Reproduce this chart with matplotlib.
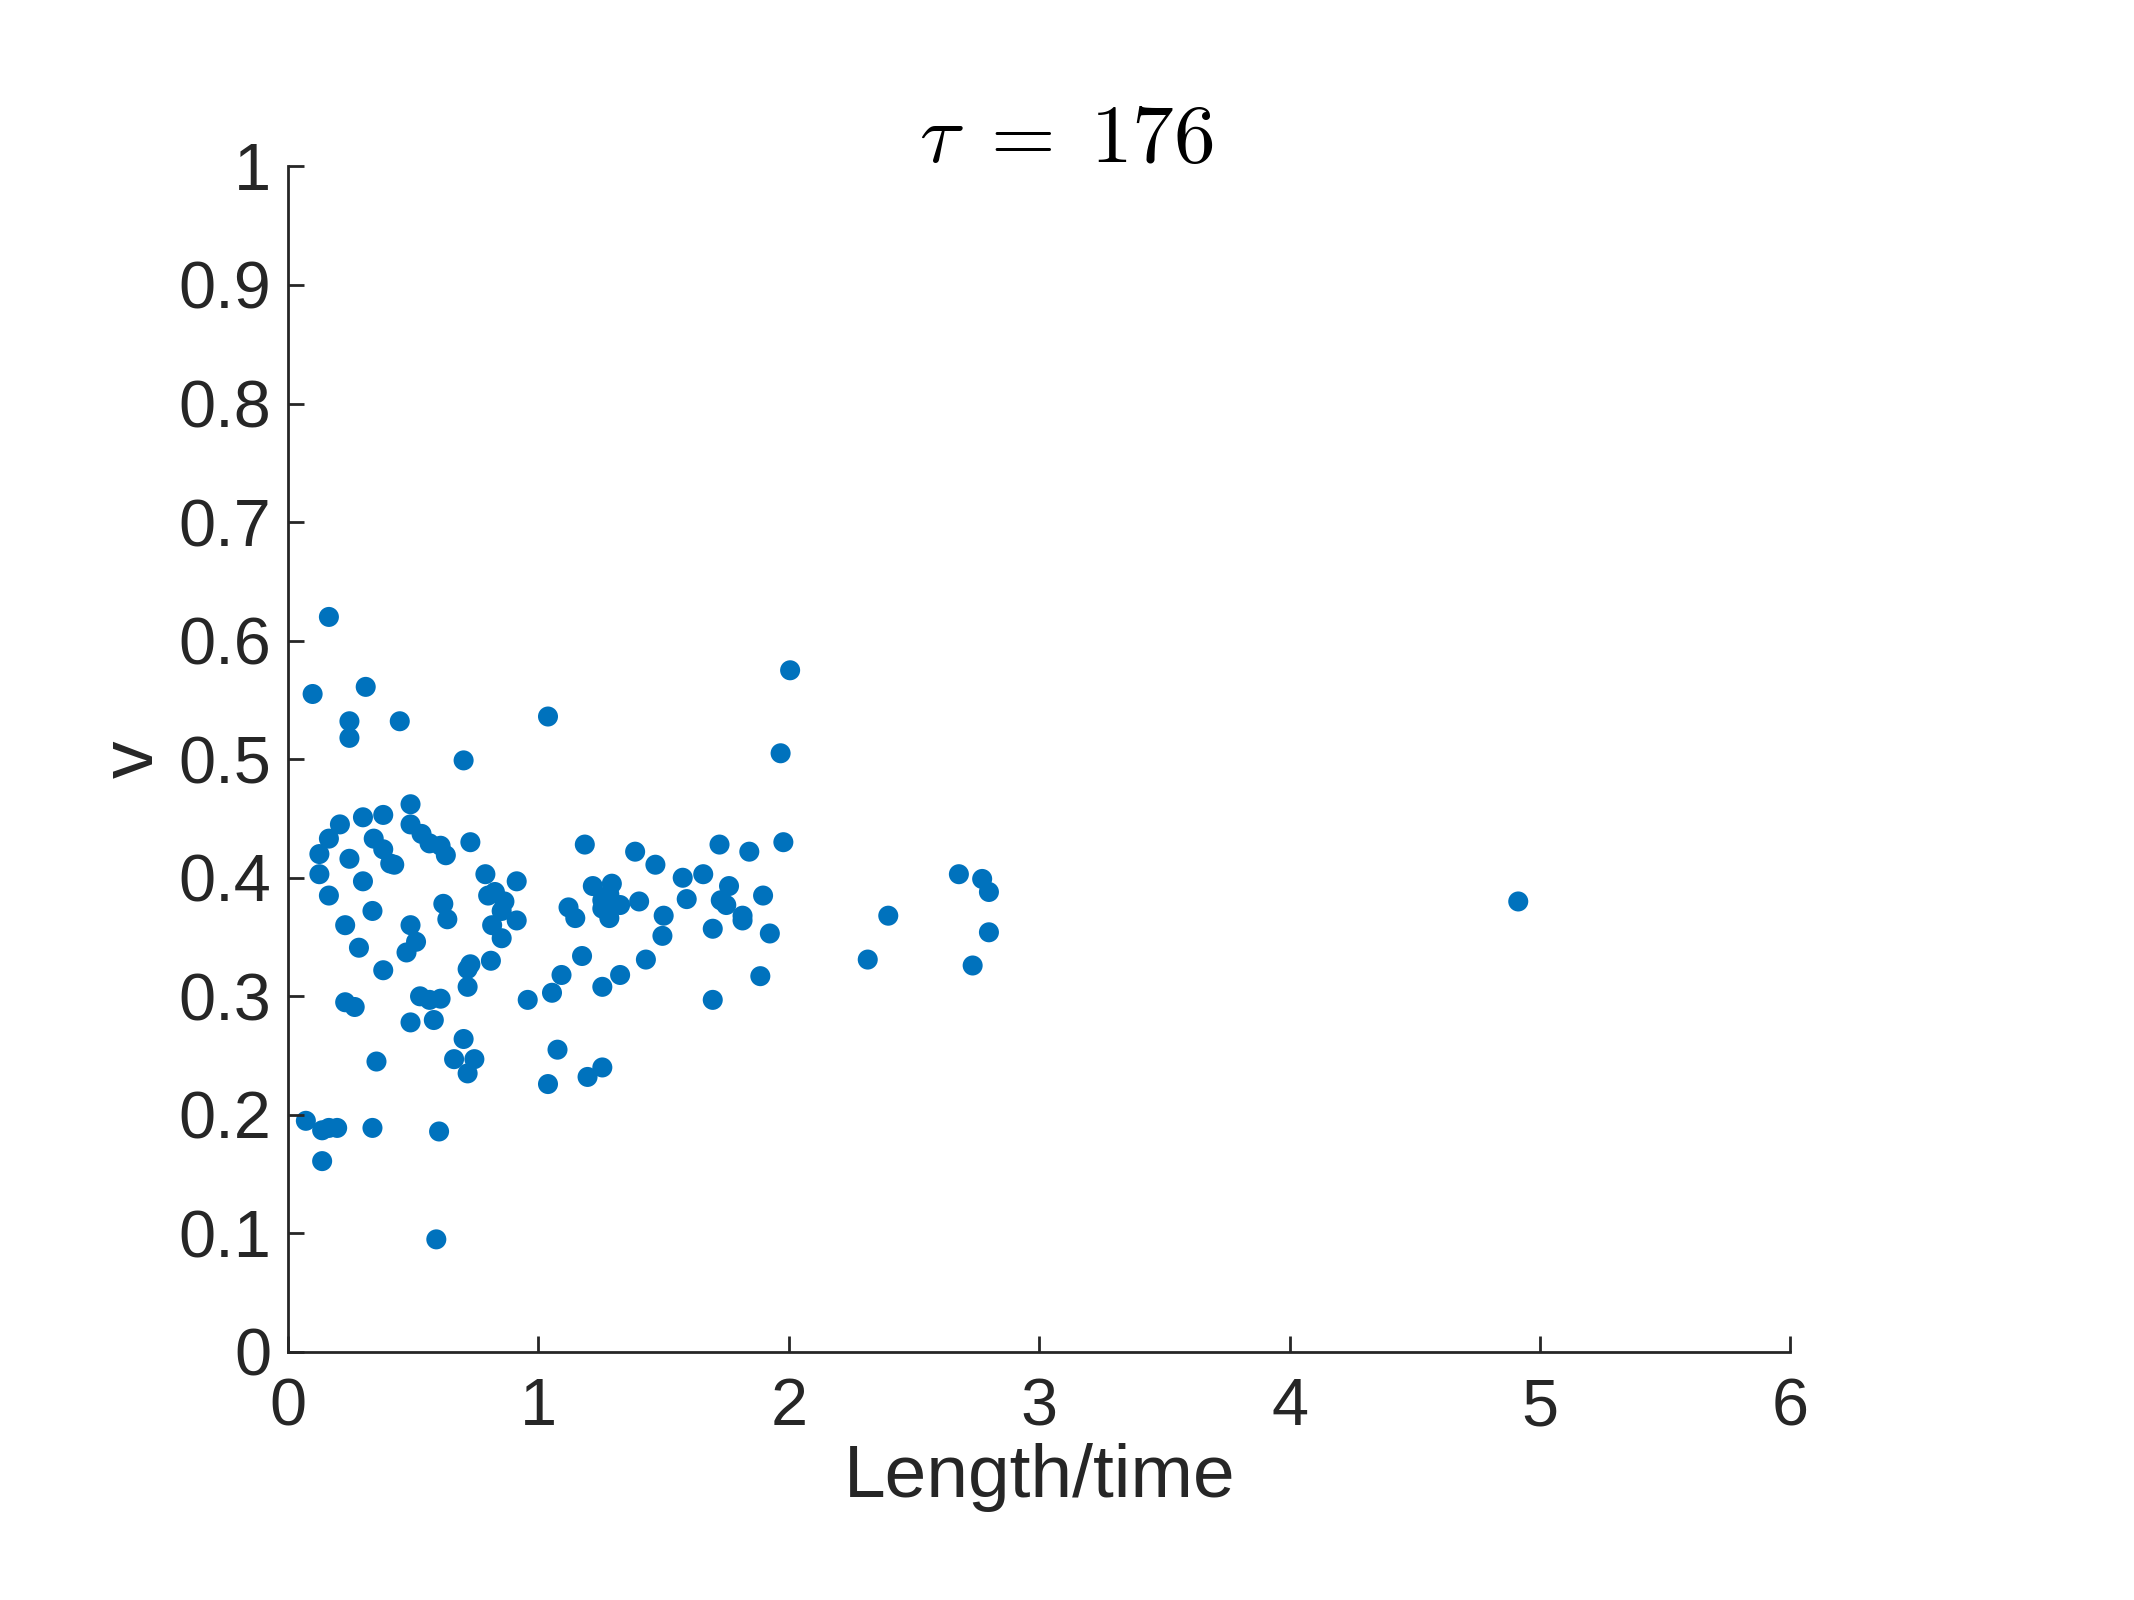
import matplotlib
matplotlib.use('Agg')
import matplotlib.pyplot as plt

# speed (length/time) and v values
length_time = [
    0.163, 0.098, 0.310, 0.245, 0.245, 0.446, 0.701, 1.038, 2.005, 1.967, 1.978,
    0.071, 0.136, 0.163, 0.196, 0.337, 0.136, 0.603, 0.592,
    0.125, 0.125, 0.163, 0.207, 0.163, 0.299, 0.380, 0.245, 0.342, 0.380,
    0.408, 0.424, 0.489, 0.489, 0.533, 0.565, 0.609, 0.630, 0.299, 0.228,
    0.337, 0.283, 0.380, 0.489, 0.511, 0.473, 0.228, 0.266, 0.527, 0.565,
    0.609, 0.582, 0.489, 0.353, 0.620, 0.636, 0.728, 0.663, 0.701, 0.717,
    0.744, 0.717, 0.728, 0.717, 0.788, 0.799, 0.826, 0.815, 0.810, 0.853,
    0.864, 0.853, 0.913, 0.913, 0.957,
    1.038, 1.076, 1.054, 1.092, 1.120, 1.147, 1.174, 1.185, 1.196, 1.255,
    1.217, 1.255, 1.255, 1.255, 1.293, 1.283, 1.283, 1.326, 1.326, 1.386,
    1.402, 1.429, 1.467, 1.500, 1.495, 1.576, 1.592, 1.658, 1.696, 1.696,
    1.723, 1.728, 1.750, 1.761, 1.815, 1.815, 1.842, 1.897, 1.886, 1.924,
    2.315, 2.397, 2.679, 2.772, 2.799, 2.799, 2.734, 4.913,
]
v = [
    0.620, 0.555, 0.561, 0.532, 0.518, 0.532, 0.499, 0.536, 0.575, 0.505, 0.430,
    0.195, 0.187, 0.189, 0.189, 0.189, 0.161, 0.186, 0.095,
    0.420, 0.403, 0.433, 0.445, 0.385, 0.451, 0.453, 0.416, 0.433, 0.424,
    0.412, 0.411, 0.462, 0.445, 0.437, 0.429, 0.427, 0.419, 0.397, 0.360,
    0.372, 0.341, 0.322, 0.360, 0.346, 0.337, 0.295, 0.291, 0.300, 0.297,
    0.298, 0.280, 0.278, 0.245, 0.378, 0.365, 0.430, 0.247, 0.264, 0.235,
    0.247, 0.323, 0.327, 0.308, 0.403, 0.385, 0.388, 0.360, 0.330, 0.372,
    0.380, 0.349, 0.397, 0.364, 0.297,
    0.226, 0.255, 0.303, 0.318, 0.375, 0.366, 0.334, 0.428, 0.232, 0.240,
    0.393, 0.308, 0.381, 0.374, 0.395, 0.386, 0.366, 0.377, 0.318, 0.422,
    0.380, 0.331, 0.411, 0.368, 0.351, 0.400, 0.382, 0.403, 0.357, 0.297,
    0.428, 0.381, 0.377, 0.393, 0.368, 0.364, 0.422, 0.385, 0.317, 0.353,
    0.331, 0.368, 0.403, 0.399, 0.388, 0.354, 0.326, 0.380,
]
tau = 176

plt.rcParams['font.family'] = ['Liberation Sans', 'DejaVu Sans']
plt.rcParams['mathtext.fontset'] = 'cm'

fig = plt.figure(figsize=(10.67, 8), dpi=200)
ax = fig.add_axes([0.135, 0.155, 0.704, 0.741])

ax.scatter(length_time, v, s=52, color='#0072BD', edgecolors='none')

ax.set_xlim(0, 6)
ax.set_ylim(0, 1)
ax.set_xticks(range(7))
ax.set_yticks([i / 10 for i in range(11)])
ax.set_yticklabels(['0', '0.1', '0.2', '0.3', '0.4', '0.5', '0.6', '0.7', '0.8', '0.9', '1'])

for side in ['top', 'right']:
    ax.spines[side].set_visible(False)
for side in ['left', 'bottom']:
    ax.spines[side].set_color('#262626')
    ax.spines[side].set_linewidth(1.0)
ax.tick_params(direction='in', length=5.6, width=1.0, colors='#262626',
               labelsize=24)
ax.tick_params(axis='x', pad=9)
ax.tick_params(axis='y', pad=6)

ax.set_xlabel('Length/time', fontsize=27, color='#262626', labelpad=1.5)
ax.set_ylabel('v', fontsize=27, color='#262626', labelpad=4)
# fixed y stops the title being pushed up by the "1" tick label
ax.set_title(r'$\tau\;=\;%d$' % tau, fontsize=30, x=0.518, y=1.0, pad=1.5)

fig.savefig('out.png', dpi=200)
